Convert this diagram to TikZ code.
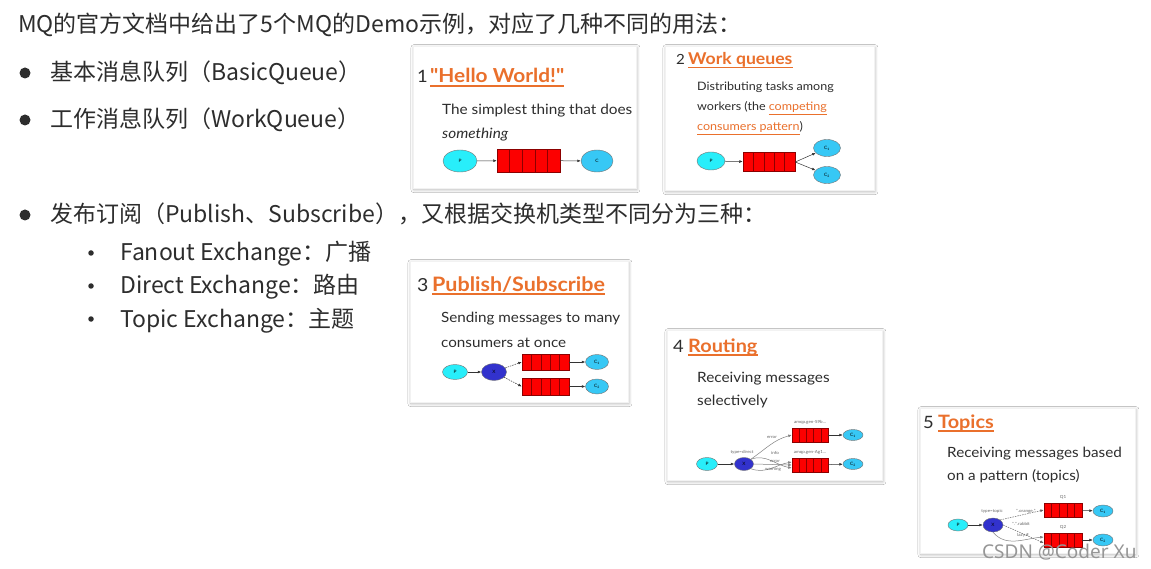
\documentclass[tikz,border=0pt]{standalone}
\usepackage{fontspec}
\setmainfont{Lato}
\newfontfamily\cjk{Noto Sans CJK SC}
\newfontfamily\cardfont[FakeStretch=1.08]{Lato}
\newfontfamily\wmfont{Noto Sans}
\usetikzlibrary{shapes.geometric,calc,arrows.meta,shadows.blur}
\definecolor{txt}{RGB}{45,45,45}
\definecolor{ctxt}{RGB}{45,45,45}
\definecolor{rmqorange}{RGB}{234,112,44}
\definecolor{pcyan}{RGB}{40,238,250}
\definecolor{cblue}{RGB}{55,200,245}
\definecolor{xblue}{RGB}{50,50,205}
\definecolor{qred}{RGB}{252,0,0}
\definecolor{qborder}{RGB}{140,0,0}
\definecolor{wm}{RGB}{150,150,150}
\tikzset{
  main/.style={anchor=base west, inner sep=0pt, text=txt, font=\cjk\fontsize{23}{27}\selectfont},
  bigdot/.style={circle, fill=txt, inner sep=0pt, minimum size=11pt},
  smalldot/.style={circle, fill=txt, inner sep=0pt, minimum size=5.5pt},
  card/.style={anchor=north west, rectangle, fill=white, draw=black!5, line width=0.3pt, inner sep=0pt,
    blur shadow={shadow blur steps=8, shadow xshift=0.8pt, shadow yshift=-1.5pt, shadow opacity=30, shadow blur radius=3pt}},
  cnum/.style={anchor=base west, inner sep=0pt, text=ctxt},
  ctitle/.style={anchor=base west, inner sep=0pt, text=rmqorange},
  uline/.style={draw=rmqorange, line width=1.1pt},
  desc/.style={anchor=base west, inner sep=0pt, text=ctxt},
  pnode/.style={ellipse, draw=black!55, line width=0.4pt, fill=pcyan, inner sep=0pt, font=\cardfont\fontsize{4.5}{5}\selectfont},
  cnode/.style={ellipse, draw=black!55, line width=0.4pt, fill=cblue, inner sep=0pt, font=\cardfont\fontsize{4.5}{5}\selectfont},
  xnode/.style={ellipse, draw=black!55, line width=0.4pt, fill=xblue, inner sep=0pt, font=\cardfont\fontsize{4.5}{5}\selectfont},
  queue/.style={rectangle, draw=qborder, fill=qred, line width=0.5pt, inner sep=0pt,
    path picture={\foreach \k in {1,2,3,4}{\draw[qborder, line width=0.5pt]
      ($(path picture bounding box.south west)!\k/5!(path picture bounding box.south east)$) --
      ($(path picture bounding box.north west)!\k/5!(path picture bounding box.north east)$);}}},
  arr/.style={-{Latex[length=3.5pt,width=2.8pt]}, line width=0.5pt, black!80},
  darr/.style={arr, dashed, dash pattern=on 1.5pt off 1pt},
  elabel/.style={inner sep=0pt, text=black!60, font=\cardfont\fontsize{4.2}{5}\selectfont},
}
\begin{document}
\begin{tikzpicture}[x=1pt,y=-1pt]
\fill[white] (0,0) rectangle (1151,569);
\useasboundingbox (0,0) rectangle (1151,569);

% ---------- left text ----------
\node[main] (l1) at (18,33) {MQ的官方文档中给出了5个MQ的Demo示例，对应了几种不同的用法：};
\node[bigdot] (b1) at (25,73) {};
\node[main] (l2) at (50,81) {基本消息队列（BasicQueue）};
\node[bigdot] (b2) at (25,120) {};
\node[main] (l3) at (50,128) {工作消息队列（WorkQueue）};
\node[bigdot] (b3) at (25,215) {};
\node[main] (l4) at (50,223) {发布订阅（Publish、Subscribe），又根据交换机类型不同分为三种：};
\node[smalldot] (s1) at (91,253) {};
\node[main] (l5) at (120,261) {Fanout Exchange：广播};
\node[smalldot] (s2) at (91,286) {};
\node[main] (l6) at (120,294) {Direct Exchange：路由};
\node[smalldot] (s3) at (91,319) {};
\node[main] (l7) at (120,327) {Topic Exchange：主题};

% ---------- card 1 ----------
\node[card, minimum width=223pt, minimum height=142pt] (card1) at (413,46) {};
\node[cnum, font=\cardfont\fontsize{17}{20}\selectfont] (n1) at (417,83) {1};
\node[ctitle, font=\cardfont\bfseries\fontsize{19.3}{22}\selectfont] (t1) at (430,83) {"Hello World!"};
\draw[uline] ([yshift=-3pt]t1.base west) -- ([yshift=-3pt]t1.base east);
\node[desc, font=\cardfont\fontsize{14.2}{17}\selectfont] (d1a) at (442,115) {The simplest thing that does};
\node[desc, font=\cardfont\itshape\fontsize{14.2}{17}\selectfont] (d1b) at (442,139) {something};
\node[pnode, minimum width=34pt, minimum height=22pt] (p1) at (460,161) {P};
\node[queue, minimum width=63pt, minimum height=23pt] (q1) at (528.5,160.5) {};
\node[cnode, minimum width=32pt, minimum height=22pt] (c1) at (597,161) {C};
\draw[arr] (p1) -- (q1);
\draw[arr] (q1) -- (c1);

% ---------- card 2 ----------
\node[card, minimum width=209pt, minimum height=144pt] (card2) at (665,46) {};
\node[cnum, font=\cardfont\fontsize{14}{17}\selectfont] (n2) at (676,65) {2};
\node[ctitle, font=\cardfont\bfseries\fontsize{16.3}{19}\selectfont] (t2) at (688,65) {Work queues};
\draw[uline] ([yshift=-2.6pt]t2.base west) -- ([yshift=-2.6pt]t2.base east);
\node[desc, font=\cardfont\fontsize{11.6}{14}\selectfont] (d2a) at (697,91) {Distributing tasks among};
\node[desc, font=\cardfont\fontsize{11.6}{14}\selectfont] (d2b) at (697,111) {workers (the \textcolor{rmqorange}{\underline{competing}}};
\node[desc, font=\cardfont\fontsize{11.6}{14}\selectfont] (d2c) at (697,131) {\textcolor{rmqorange}{\underline{consumers pattern}})};
\node[pnode, minimum width=28pt, minimum height=18pt] (p2) at (711,161) {P};
\node[queue, minimum width=52pt, minimum height=19pt] (q2) at (769,162) {};
\node[cnode, minimum width=27pt, minimum height=17pt] (c2a) at (827,148) {C\textsubscript{1}};
\node[cnode, minimum width=27pt, minimum height=17pt] (c2b) at (827,175) {C\textsubscript{2}};
\draw[arr] (p2) -- (q2);
\draw[arr] (q2.east) -- (c2a);
\draw[arr] (q2.east) -- (c2b);

% ---------- card 3 ----------
\node[card, minimum width=218pt, minimum height=141pt] (card3) at (410,261) {};
\node[cnum, font=\cardfont\fontsize{18}{21}\selectfont] (n3) at (417,291) {3};
\node[ctitle, font=\cardfont\bfseries\fontsize{19.9}{22}\selectfont] (t3) at (432,291) {Publish/Subscribe};
\draw[uline] ([yshift=-3pt]t3.base west) -- ([yshift=-3pt]t3.base east);
\node[desc, font=\cardfont\fontsize{14.1}{17}\selectfont] (d3a) at (441,323) {Sending messages to many};
\node[desc, font=\cardfont\fontsize{14.1}{17}\selectfont] (d3b) at (441,347) {consumers at once};
\node[pnode, minimum width=25pt, minimum height=15pt] (p3) at (455,372) {P};
\node[xnode, minimum width=25pt, minimum height=17pt] (x3) at (494,372) {X};
\node[queue, minimum width=47pt, minimum height=16pt] (q3a) at (545.5,362) {};
\node[queue, minimum width=47pt, minimum height=17pt] (q3b) at (545.5,386.5) {};
\node[cnode, minimum width=23pt, minimum height=15pt] (c3a) at (597,362) {C\textsubscript{1}};
\node[cnode, minimum width=23pt, minimum height=15pt] (c3b) at (597,386.5) {C\textsubscript{2}};
\draw[arr] (p3) -- (x3);
\draw[darr] (x3) -- (q3a.west);
\draw[darr] (x3) -- (q3b.west);
\draw[arr] (q3a) -- (c3a);
\draw[arr] (q3b) -- (c3b);

% ---------- card 4 ----------
\node[card, minimum width=215pt, minimum height=150pt] (card4) at (667,330) {};
\node[cnum, font=\cardfont\fontsize{17}{20}\selectfont] (n4) at (673,352) {4};
\node[ctitle, font=\cardfont\bfseries\fontsize{18.4}{21}\selectfont] (t4) at (688,352) {Routing};
\draw[uline] ([yshift=-3pt]t4.base west) -- ([yshift=-3pt]t4.base east);
\node[desc, font=\cardfont\fontsize{14.2}{17}\selectfont] (d4a) at (697,382) {Receiving messages};
\node[desc, font=\cardfont\fontsize{14.2}{17}\selectfont] (d4b) at (697,405) {selectively};
\node[pnode, minimum width=21pt, minimum height=13pt] (p4) at (707,464) {P};
\node[xnode, minimum width=19pt, minimum height=13pt] (x4) at (744,464) {X};
\node[queue, minimum width=36pt, minimum height=14pt] (q4a) at (810,435) {};
\node[queue, minimum width=36pt, minimum height=14pt] (q4b) at (810,465) {};
\node[cnode, minimum width=20pt, minimum height=11pt] (c4a) at (853,435) {C\textsubscript{1}};
\node[cnode, minimum width=20pt, minimum height=11pt] (c4b) at (853,464) {C\textsubscript{2}};
\node[elabel] (x4l) at (742,452) {type=direct};
\node[elabel] (q4al) at (810,422) {amqp.gen-S9b...};
\node[elabel] (q4bl) at (810,452) {amqp.gen-Ag1...};
\draw[arr] (p4) -- (x4);
\draw[arr, black!50] (x4.north east) to[out=35,in=195] (q4a.west);
\draw[arr, black!50] (x4.north east) to[out=20,in=170] ([yshift=-3pt]q4b.west);
\draw[arr, black!50] (x4.east) -- (q4b.west);
\draw[arr, black!50] (x4.south east) to[out=-20,in=190] ([yshift=3pt]q4b.west);
\node[elabel] (l4err) at (772,437) {error};
\node[elabel] (l4info) at (775,453) {info};
\node[elabel] (l4err2) at (775,461) {error};
\node[elabel] (l4warn) at (773,469) {warning};
\draw[arr] (q4a) -- (c4a);
\draw[arr] (q4b) -- (c4b);

% ---------- card 5 ----------
\node[card, minimum width=215pt, minimum height=145pt] (card5) at (920,408) {};
\node[cnum, font=\cardfont\fontsize{17}{20}\selectfont] (n5) at (923,428) {5};
\node[ctitle, font=\cardfont\bfseries\fontsize{18.4}{21}\selectfont] (t5) at (938,428) {Topics};
\draw[uline] ([yshift=-3pt]t5.base west) -- ([yshift=-3pt]t5.base east);
\node[desc, font=\cardfont\fontsize{14.1}{17}\selectfont] (d5a) at (947,457) {Receiving messages based};
\node[desc, font=\cardfont\fontsize{14.1}{17}\selectfont] (d5b) at (947,480) {on a pattern (topics)};
\node[pnode, minimum width=20pt, minimum height=12pt] (p5) at (958,525) {P};
\node[xnode, minimum width=20pt, minimum height=14pt] (x5) at (993,525) {X};
\node[queue, minimum width=38pt, minimum height=14pt] (q5a) at (1063,510) {};
\node[queue, minimum width=38pt, minimum height=14pt] (q5b) at (1063,540) {};
\node[cnode, minimum width=20pt, minimum height=12pt] (c5a) at (1103,511) {C\textsubscript{1}};
\node[cnode, minimum width=20pt, minimum height=12pt] (c5b) at (1103,540) {C\textsubscript{2}};
\node[elabel] (q5al) at (1063,497) {Q1};
\node[elabel] (q5bl) at (1063,527) {Q2};
\node[elabel] (x5l) at (992,511) {type=topic};
\draw[arr] (p5) -- (x5);
\draw[darr, black!60] (x5.north east) -- (q5a.west);
\draw[darr, black!60] (x5.east) -- ([yshift=-3pt]q5b.west);
\draw[arr, black!50] (x5.south) to[out=-50,in=185] ([yshift=3pt]q5b.west);
\node[elabel] (l5or) at (1026,511) {*.orange.*};
\node[elabel] (l5rb) at (1021,524) {*.*.rabbit};
\node[elabel] (l5lz) at (1023,535) {lazy.\#};
\draw[arr] (q5a) -- (c5a);
\draw[arr] (q5b) -- (c5b);

% ---------- watermark ----------
\node[anchor=base west, inner sep=0pt, text=wm, font=\wmfont\fontsize{19}{22}\selectfont] (wmk) at (982,558) {CSDN @Coder Xu};
\end{tikzpicture}
\end{document}
